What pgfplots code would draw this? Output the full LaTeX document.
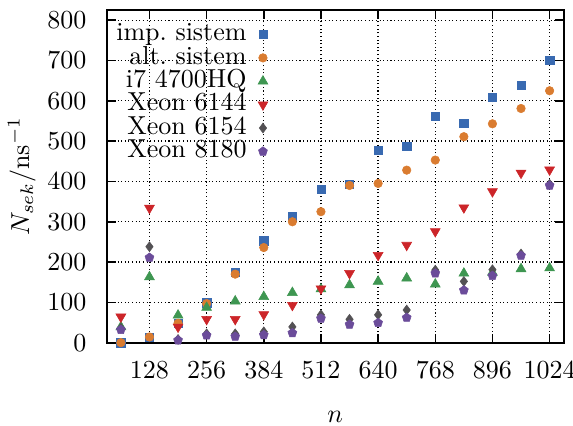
\documentclass[border=0pt]{standalone}
\usepackage{pgfplots}
\pgfplotsset{compat=1.18}
\definecolor{cblue}{HTML}{396AB1}
\definecolor{corange}{HTML}{DA7C30}
\definecolor{cgreen}{HTML}{3E9651}
\definecolor{cred}{HTML}{CC2529}
\definecolor{cgrey}{HTML}{535154}
\definecolor{cpurple}{HTML}{6B4C9A}
\begin{document}
\begin{tikzpicture}
\begin{axis}[
name=ax,
scale only axis,
width=175.9pt, height=127.9pt,
xmin=32, xmax=1056, ymin=0, ymax=825,
xtick={128,256,384,512,640,768,896,1024},
ytick={0,100,200,300,400,500,600,700,800},
/pgf/number format/1000 sep={},
grid=major,
major grid style={densely dotted, black, line width=0.5pt},
tick align=inside,
major tick length=3.5pt,
tick style={black, line width=0.6pt},
axis line style={line width=0.8pt},
xticklabel style={yshift=-4pt},
yticklabel style={xshift=-4.2pt},
xlabel={$n$},
ylabel={$N_{sek}/\mathrm{ns}^{-1}$},
xlabel style={at={(rel axis cs:0.5,0)}, anchor=center, yshift=-28.5pt},
ylabel style={at={([xshift=-32.6pt]rel axis cs:0,0.5)}, anchor=center, rotate=0},
legend style={draw=none, fill=none, inner sep=0pt, outer sep=0pt,
  at={(rel axis cs:0.359,0.962)}, anchor=north east,
  column sep=3.3pt, row sep=0pt,
  nodes={inner sep=0pt, text height=6.9pt, text depth=2.1pt}},
legend cell align=right,
legend plot pos=right,
legend image code/.code={\path[draw=none,fill=none] (0pt,-2pt) rectangle (6pt,2pt); \draw[#1] plot coordinates {(3pt,0pt)};},
]
\addplot[only marks, mark=square*, mark size=1.6pt, color=cblue, mark options={line width=0.2pt}] coordinates {
(64,0) (128,14) (192,48) (256,99) (320,174) (384,253) (448,313) (512,380)
(576,393) (640,478) (704,487) (768,562) (832,544) (896,609) (960,639) (1024,701)};
\addlegendentry{imp.\ sistem}
\addplot[only marks, mark=*, mark size=1.65pt, color=corange, mark options={line width=0.2pt}] coordinates {
(64,0) (128,14) (192,48) (256,97) (320,170) (384,236) (448,300) (512,325)
(576,390) (640,395) (704,428) (768,453) (832,511) (896,543) (960,581) (1024,625)};
\addlegendentry{alt.\ sistem}
\addplot[only marks, mark=triangle*, mark size=2.2pt, color=cgreen, mark options={line width=0.2pt}] coordinates {
(64,39) (128,163) (192,68) (256,87) (320,103) (384,114) (448,124) (512,133)
(576,143) (640,152) (704,160) (768,145) (832,172) (896,174) (960,183) (1024,185)};
\addlegendentry{i7 4700HQ}
\addplot[only marks, mark=triangle*, mark size=2.2pt, color=cred, mark options={rotate=180, line width=0.2pt}] coordinates {
(64,64) (128,334) (192,39) (256,58) (320,58) (384,70) (448,93) (512,134)
(576,172) (640,217) (704,242) (768,276) (832,335) (896,375) (960,421) (1024,429)};
\addlegendentry{Xeon 6144}
\addplot[only marks, mark=diamond*, mark size=1.9pt, color=cgrey, mark options={line width=0.2pt}] coordinates {
(64,36) (128,238) (192,8) (256,22) (320,22) (384,27) (448,39) (512,69)
(576,58) (640,69) (704,81) (768,180) (832,152) (896,181) (960,220) (1024,393)};
\addlegendentry{Xeon 6154}
\addplot[only marks, mark=pentagon*, mark size=1.8pt, color=cpurple, mark options={line width=0.2pt}] coordinates {
(64,32) (128,211) (192,6) (256,18) (320,15) (384,19) (448,24) (512,60)
(576,45) (640,49) (704,62) (768,172) (832,130) (896,166) (960,216) (1024,390)};
\addlegendentry{Xeon 8180}
\end{axis}
\pgfresetboundingbox
\path (ax.south west) ++(-41.0pt,-31.7pt) rectangle ++(220.4pt,163.5pt);
\end{tikzpicture}
\end{document}
